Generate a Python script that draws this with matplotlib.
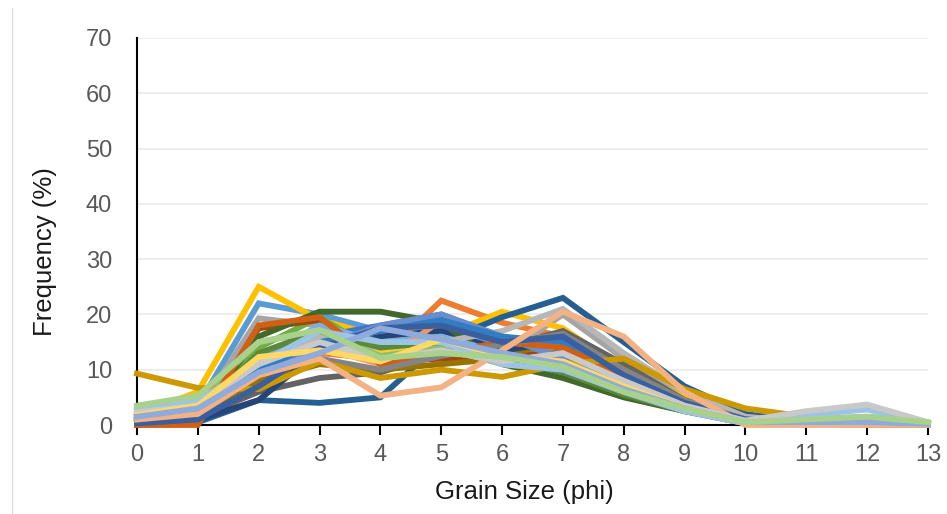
import matplotlib
matplotlib.use('Agg')
import matplotlib.pyplot as plt
from matplotlib.lines import Line2D
import numpy as np

plt.rcParams['font.family'] = ['Liberation Sans', 'DejaVu Sans']

phi = list(range(14))

# one frequency curve per sample, phi 0..13
samples = [
    [1.5, 3.5, 22, 20, 17, 17.5, 14, 13, 8, 3.5, 0.5, 0.3, 0.2, 0],
    [0.3, 0.8, 10, 13, 12, 22.5, 18.5, 16, 9, 4, 1, 0.3, 0.2, 0],
    [1.2, 2.5, 19.3, 18, 14, 15, 12.5, 20, 12, 5, 1, 0.5, 0.5, 0],
    [1.8, 6, 25, 19, 16, 16, 20.5, 17.5, 10, 5, 1.5, 0.5, 0.3, 0],
    [0.5, 1.5, 13, 16, 18, 20, 16, 14, 9, 4, 1, 0.5, 0.3, 0],
    [1, 2.5, 14, 19.5, 13, 14, 14, 12, 7, 3, 0.5, 0.3, 0.2, 0],
    [0, 0.5, 4.5, 4, 5, 15, 19.5, 23, 15, 7, 2, 0.5, 0.5, 0],
    [0.2, 0.5, 17.5, 19, 11.5, 12, 12.5, 13, 8, 3.5, 0.5, 0.2, 0.1, 0],
    [0.5, 1.5, 6, 8.5, 9.5, 13, 14, 17, 11, 4.5, 1, 0.3, 0.2, 0],
    [0.8, 2, 8, 11, 10, 11, 12, 16, 10, 4, 1, 0.3, 0.2, 0],
    [0.3, 1, 4.5, 13.5, 16, 17, 13.5, 15, 9, 4, 1, 0.3, 0.2, 0],
    [0.5, 1.5, 16, 20.5, 20.5, 18.5, 11, 8.5, 5, 2.5, 0.3, 0.2, 0.1, 0],
    [2, 4, 12, 18, 15, 16, 13, 11, 7, 3, 0.5, 1, 1.5, 0.3],
    [0.8, 2, 10, 14, 11, 19, 15, 14, 8, 3.5, 0.5, 0.2, 0.2, 0],
    [1.5, 3, 10, 16, 13, 15, 17, 21, 13, 6, 1.5, 0.5, 0.5, 0],
    [1.5, 3.5, 12, 14, 13, 15, 12, 12, 7, 3, 0.5, 0.3, 0.2, 0],
    [1, 2.5, 9, 14, 18, 20, 16, 12, 7, 3, 0.5, 0.5, 0.5, 0.2],
    [2.5, 4.5, 15, 17, 12.5, 14, 11, 10, 6, 2.5, 0.3, 0.5, 0.8, 0.2],
    [0.5, 1.5, 10, 15, 17, 19, 16, 15, 9, 4, 1, 0.5, 0.5, 0],
    [0, 0, 18, 19.5, 11, 13, 15, 14, 9, 4, 0.5, 0.2, 0.1, 0],
    [1, 2, 9, 12, 10, 12.5, 14.5, 16.5, 10, 4.5, 1, 0.5, 0.3, 0],
    [9.3, 6.7, 6.5, 11.5, 8.5, 10, 8.7, 11, 12, 6.5, 3, 1.5, 0.5, 0],
    [0.3, 1, 7, 14, 17.5, 18, 15, 16, 9, 4, 1, 0.3, 0.2, 0],
    [1, 2.5, 13, 17, 14, 15, 12, 9.5, 5.5, 2.5, 0.5, 0.3, 0.3, 0],
    [2.8, 4.5, 11, 17, 15, 15, 11, 10, 6, 2.5, 0.3, 1.8, 2.8, 0.3],
    [1, 2, 9, 12, 5.3, 6.8, 13.5, 20.5, 16, 6, 0, 0, 0, 0],
    [2.3, 3.5, 11, 15, 12, 13.5, 11.5, 13, 8, 3.5, 0.8, 2.5, 3.7, 0.5],
    [1.8, 3.5, 12.3, 13.5, 11.5, 15.5, 12.5, 11.5, 7, 3, 0.5, 0.5, 0.5, 0.2],
    [1.5, 3, 9.5, 13, 17.5, 15.5, 13, 11, 6.5, 3, 0.5, 0.5, 0.5, 0.2],
    [3.5, 5.3, 15, 17.2, 12.1, 13, 12.3, 10.5, 6, 3, 0.5, 1, 1.5, 0.5],
]

colors = [
    '#5B9BD5', '#ED7D31', '#A5A5A5', '#FFC000', '#4472C4', '#70AD47',
    '#255E91', '#9E480E', '#636363', '#997300', '#264478', '#43682B',
    '#7CAFDD', '#F1975A', '#B7B7B7', '#FFCD33', '#698ED0', '#8CC168',
    '#327DC2', '#D26012', '#848484', '#CC9A00', '#3A5FA0', '#5A8A39',
    '#9DC3E6', '#F4B183', '#C9C9C9', '#FFD966', '#8FAADC', '#A9D18E',
]

fig = plt.figure(figsize=(9.47, 5.14), dpi=100)
ax = fig.add_axes([137/947, 89/514, 791/947, 387/514])

for vals, c in zip(samples, colors):
    ax.plot(phi, vals, color=c, lw=4.2, solid_joinstyle='miter', clip_on=False, zorder=3)

ax.set_xlim(0, 13)
ax.set_ylim(0, 70)
ax.set_xticks(phi)
ax.set_yticks(range(0, 71, 10))
ax.grid(axis='y', color='#ececec', lw=1.3)
ax.set_axisbelow(True)

for s in ['top', 'right']:
    ax.spines[s].set_visible(False)
for s in ['left', 'bottom']:
    ax.spines[s].set_color('black')
    ax.spines[s].set_linewidth(1.5)

ax.tick_params(axis='x', direction='out', length=7, width=1.5, color='black',
               labelsize=17, labelcolor='#595959', pad=7)
ax.tick_params(axis='y', length=0, labelsize=17, labelcolor='#595959', pad=18)

ax.set_xlabel('Grain Size (phi)', fontsize=18.5, color='#1a1a1a', va='center', ha='center')
ax.set_ylabel('Frequency (%)', fontsize=18.5, color='#1a1a1a', va='center', ha='center')
ax.xaxis.set_label_coords(0.49, -0.173)
ax.yaxis.set_label_coords(-0.116, 0.447)

# chart area border on the left
fig.add_artist(Line2D([11.5/947, 11.5/947], [0, 1 - 8/514], color='#e0e0e0', lw=1))

fig.savefig('out.png', dpi=100)
